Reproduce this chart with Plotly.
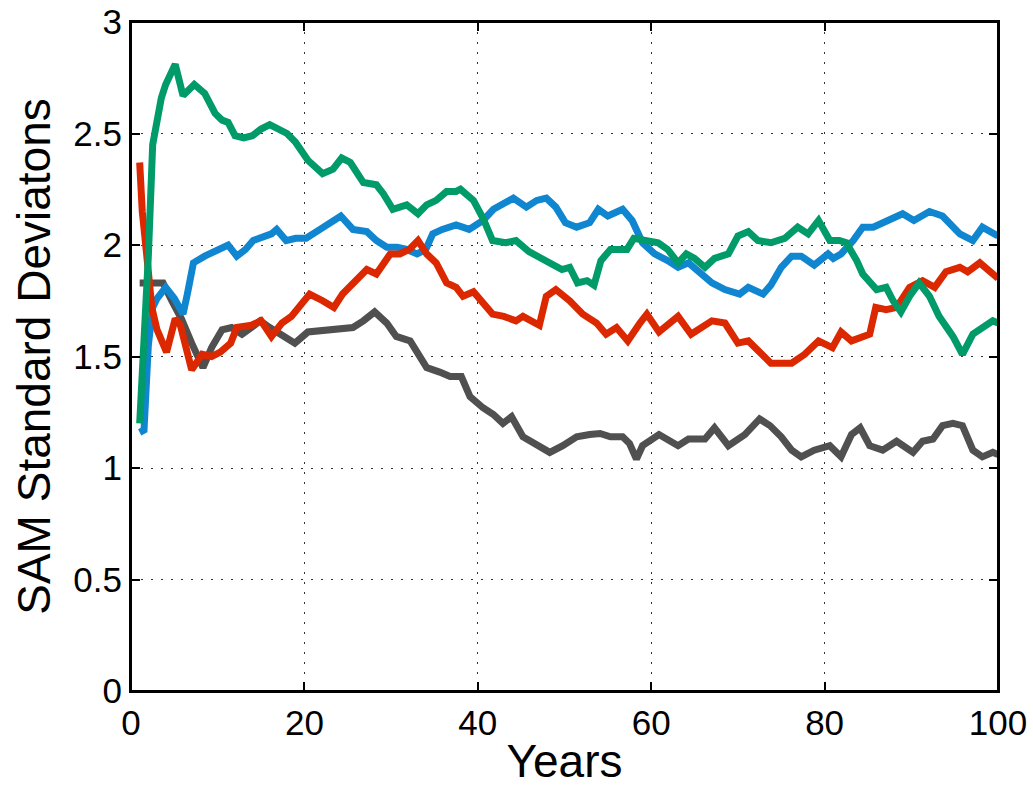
import plotly.graph_objects as go

# ---- data ----
gray_x = [1.0, 2.0, 3.7, 4.7, 5.8, 7.0, 7.8, 8.3, 9.3, 10.5, 11.6, 12.8, 13.9, 14.9, 16.0, 17.4, 18.9, 20.4,
          22.5, 24.5, 25.6, 26.8, 28.1, 29.5, 30.6, 32.2, 34.1, 35.6, 36.8, 38.1, 39.1, 40.6, 41.8, 42.9, 43.9,
          45.2, 46.8, 48.3, 49.8, 51.4, 52.9, 54.1, 55.3, 56.7, 57.5, 58.3, 59.0, 60.9, 63.1, 64.3, 66.2, 67.3,
          68.9, 70.8, 72.5, 73.7, 75.0, 76.2, 77.3, 78.8, 80.6, 81.9, 83.1, 84.1, 85.2, 86.7, 88.3, 90.2, 91.3,
          92.5, 93.6, 94.8, 95.9, 97.1, 98.2, 99.4, 100.0]
gray_y = [1.83, 1.83, 1.83, 1.75, 1.67, 1.56, 1.48, 1.45, 1.54, 1.62, 1.63, 1.60, 1.63, 1.66, 1.63, 1.60, 1.56, 1.61,
          1.62, 1.63, 1.63, 1.66, 1.70, 1.65, 1.59, 1.57, 1.45, 1.43, 1.41, 1.41, 1.32, 1.27, 1.24, 1.20, 1.23,
          1.14, 1.10, 1.07, 1.10, 1.14, 1.15, 1.155, 1.14, 1.14, 1.11, 1.04, 1.10, 1.15, 1.10, 1.13, 1.13, 1.18,
          1.10, 1.15, 1.22, 1.19, 1.14, 1.08, 1.05, 1.08, 1.10, 1.05, 1.15, 1.18, 1.10, 1.08, 1.12, 1.07, 1.12,
          1.13, 1.19, 1.20, 1.19, 1.08, 1.05, 1.07, 1.06]

blue_x = [1.0, 1.5, 2.0, 2.5, 3.0, 4.0, 5.0, 6.0, 6.5, 7.2, 8.5, 10.3, 11.2, 12.2, 13.2, 14.1, 15.0, 16.2, 16.8,
          17.9, 19.0, 20.2, 21.8, 23.0, 24.2, 25.6, 27.2, 28.3, 29.5, 30.7, 31.8, 33.0, 34.0, 34.8, 35.9, 37.5,
          39.0, 40.6, 41.8, 44.1, 45.6, 46.8, 47.9, 49.0, 50.1, 51.4, 52.9, 53.9, 55.0, 56.7, 57.8, 59.0, 60.4,
          61.9, 63.1, 64.3, 65.8, 67.0, 68.5, 70.2, 71.2, 72.9, 73.8, 75.0, 76.2, 77.3, 78.8, 80.4, 81.0, 81.9,
          83.3, 84.4, 85.6, 87.1, 89.0, 90.3, 92.1, 93.6, 95.6, 97.1, 98.2, 100.0]
blue_y = [1.16, 1.17, 1.55, 1.72, 1.76, 1.81, 1.76, 1.69, 1.78, 1.92, 1.95, 1.98, 2.00, 1.95, 1.98, 2.02, 2.03, 2.05, 2.07,
          2.02, 2.03, 2.03, 2.07, 2.10, 2.13, 2.07, 2.06, 2.02, 1.99, 1.99, 1.98, 1.96, 1.98, 2.05, 2.07, 2.09,
          2.07, 2.11, 2.16, 2.21, 2.17, 2.20, 2.21, 2.17, 2.10, 2.08, 2.10, 2.16, 2.13, 2.16, 2.11, 2.01, 1.96,
          1.93, 1.90, 1.92, 1.87, 1.83, 1.80, 1.78, 1.81, 1.78, 1.82, 1.90, 1.95, 1.95, 1.91, 1.96, 1.94, 1.96,
          2.02, 2.08, 2.08, 2.11, 2.14, 2.11, 2.15, 2.13, 2.05, 2.02, 2.08, 2.04]

red_x = [1.0, 1.3, 1.8, 2.4, 3.0, 4.1, 5.1, 5.7, 7.0, 8.2, 9.3, 10.3, 11.5, 12.2, 13.9, 15.0, 16.2, 17.4, 18.5,
         19.7, 20.6, 22.1, 23.4, 24.4, 26.0, 27.2, 28.3, 29.9, 31.0, 32.1, 33.1, 34.1, 35.2, 36.4, 37.5, 38.3,
         39.5, 40.6, 41.7, 43.0, 44.4, 45.2, 47.1, 47.9, 49.0, 50.6, 52.1, 53.7, 54.8, 56.0, 57.3, 58.7, 59.5,
         60.9, 63.1, 64.6, 66.0, 67.0, 68.5, 70.0, 71.2, 72.7, 73.8, 76.2, 77.7, 79.3, 80.9, 81.9, 83.1, 85.2,
         85.9, 87.1, 88.3, 89.8, 91.3, 92.7, 94.0, 95.6, 96.5, 97.9, 99.4, 100.0]
red_y = [2.37, 2.15, 1.96, 1.72, 1.62, 1.52, 1.67, 1.64, 1.44, 1.51, 1.50, 1.52, 1.56, 1.63, 1.64, 1.66, 1.59, 1.65, 1.68,
         1.74, 1.78, 1.75, 1.72, 1.78, 1.84, 1.89, 1.87, 1.96, 1.96, 1.98, 2.02, 1.96, 1.92, 1.83, 1.81, 1.77,
         1.79, 1.74, 1.69, 1.68, 1.66, 1.68, 1.64, 1.77, 1.80, 1.75, 1.69, 1.65, 1.60, 1.63, 1.57, 1.65, 1.69,
         1.61, 1.68, 1.60, 1.63, 1.66, 1.65, 1.56, 1.57, 1.51, 1.47, 1.47, 1.51, 1.57, 1.54, 1.61, 1.57, 1.60,
         1.72, 1.71, 1.72, 1.81, 1.84, 1.81, 1.88, 1.90, 1.88, 1.92, 1.87, 1.85]

green_x = [1.0, 1.5, 2.0, 2.5, 3.0, 3.5, 4.0, 4.5, 5.1, 6.0, 7.3, 8.5, 9.7, 10.5, 11.2, 12.0, 13.0, 14.0, 15.0,
           16.0, 17.0, 18.0, 19.0, 20.4, 22.1, 23.3, 24.3, 25.3, 26.8, 28.3, 29.1, 30.2, 31.8, 33.1, 34.1, 35.2,
           36.4, 37.5, 38.0, 39.5, 40.6, 41.7, 43.2, 44.4, 45.9, 47.8, 49.7, 50.6, 51.5, 52.6, 53.4, 54.2, 55.3,
           56.4, 57.2, 58.0, 59.7, 60.8, 61.9, 63.1, 64.05, 65.0, 66.2, 67.3, 68.9, 70.0, 71.2, 72.3, 73.8, 75.4,
           76.9, 78.1, 79.3, 80.6, 81.7, 82.5, 83.7, 84.4, 86.0, 87.1, 87.9, 88.8, 89.8, 90.9, 92.1, 93.2, 94.8,
           95.9, 97.1, 98.2, 99.4, 100.0]
green_y = [1.20, 1.55, 1.95, 2.45, 2.58, 2.66, 2.72, 2.77, 2.81, 2.67, 2.72, 2.68, 2.59, 2.56, 2.55, 2.49, 2.48, 2.49, 2.52,
           2.54, 2.52, 2.50, 2.46, 2.38, 2.32, 2.34, 2.39, 2.37, 2.28, 2.27, 2.23, 2.16, 2.18, 2.14, 2.18, 2.20,
           2.24, 2.24, 2.25, 2.20, 2.12, 2.02, 2.01, 2.02, 1.97, 1.93, 1.89, 1.90, 1.83, 1.84, 1.82, 1.93, 1.98,
           1.98, 1.98, 2.03, 2.02, 2.01, 1.98, 1.92, 1.96, 1.94, 1.90, 1.94, 1.96, 2.04, 2.06, 2.02, 2.01, 2.03,
           2.08, 2.05, 2.11, 2.02, 2.02, 2.01, 1.93, 1.87, 1.80, 1.81, 1.75, 1.70, 1.77, 1.83, 1.77, 1.68, 1.59,
           1.51, 1.60, 1.63, 1.66, 1.65]

x_ticks = [0, 20, 40, 60, 80, 100]
y_ticks = [0, 0.5, 1, 1.5, 2, 2.5, 3]
y_tick_text = ["0", "0.5", "1", "1.5", "2", "2.5", "3"]

series = [
    ("gray", gray_x, gray_y, "#505050"),
    ("blue", blue_x, blue_y, "#0F86CF"),
    ("red", red_x, red_y, "#DC2800"),
    ("green", green_x, green_y, "#009B68"),
]

fig = go.Figure()
for name, xs, ys, col in series:
    fig.add_trace(go.Scatter(x=xs, y=ys, mode="lines", name=name,
                             line=dict(color=col, width=7), showlegend=False))

font_family = "Liberation Sans, Arial, Helvetica, sans-serif"
axis_common = dict(
    showline=True, linecolor="black", linewidth=2, mirror="ticks",
    ticks="inside", ticklen=9, tickwidth=1.5, tickcolor="black",
    showgrid=True, gridcolor="#333333", gridwidth=1, griddash="2px,8px",
    zeroline=False, ticklabeloverflow="allow",
    tickfont=dict(family=font_family, size=35, color="black"),
)

fig.update_xaxes(range=[0, 100], tickvals=x_ticks, ticktext=[str(v) for v in x_ticks],
                 title=dict(text="Years", font=dict(family=font_family, size=46, color="black"), standoff=10),
                 **axis_common)
fig.update_yaxes(range=[0, 3], tickvals=y_ticks, ticktext=y_tick_text,
                 title=dict(text="SAM Standard Deviatons", font=dict(family=font_family, size=46, color="black"),
                            standoff=8),
                 **axis_common)

# box frame around the plotting area
fig.add_shape(type="rect", xref="paper", yref="paper", x0=0, y0=0, x1=1, y1=1,
              line=dict(color="black", width=2), fillcolor="rgba(0,0,0,0)", layer="above")

fig.update_layout(
    width=1033, height=787,
    margin=dict(l=131, r=35, t=22, b=96, autoexpand=False),
    paper_bgcolor="white", plot_bgcolor="white",
)

# remove the browser's default 8px body margin so the figure sits at the window's top-left
fig.write_html("out.html", config={"displayModeBar": False},
               post_script="document.body.style.margin='0px';document.body.style.overflow='hidden';")
